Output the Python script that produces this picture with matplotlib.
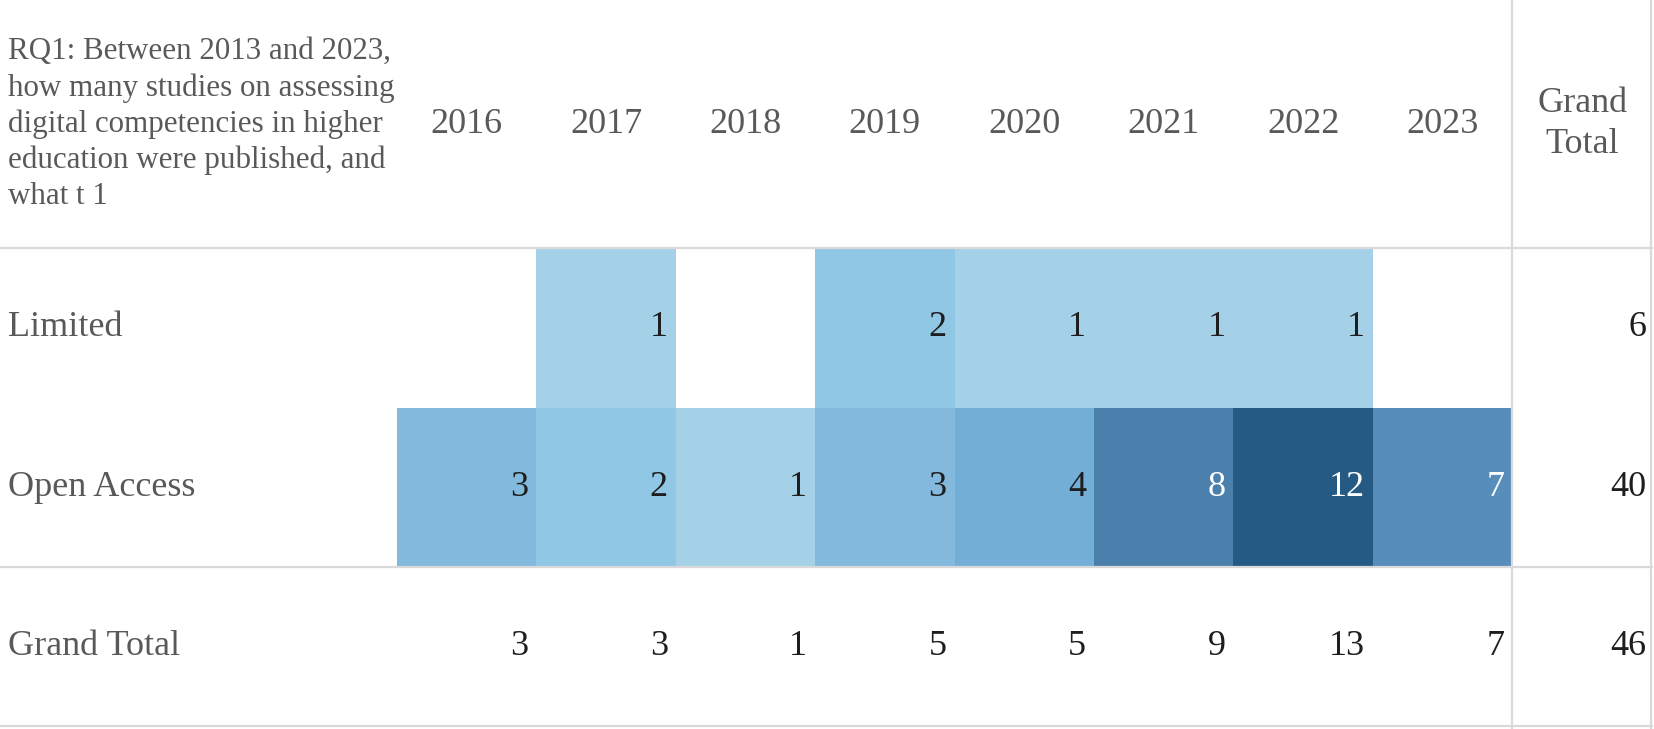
import numpy as np
import matplotlib
matplotlib.use("Agg")
import matplotlib.pyplot as plt
from matplotlib.colors import LinearSegmentedColormap, Normalize

# data
years = ["2016", "2017", "2018", "2019", "2020", "2021", "2022", "2023"]
row_labels = ["Limited", "Open Access"]
limited = [np.nan, 1, np.nan, 2, 1, 1, 1, np.nan]
open_access = [3, 2, 1, 3, 4, 8, 12, 7]
question = ("RQ1: Between 2013 and 2023,\nhow many studies on assessing\n"
            "digital competencies in higher\neducation were published, and\nwhat t 1")

# layout (pixels)
W, H = 1654, 729
LABEL_W = 397
COL_W = 139.4
TOTAL_W = 140
HEADER_H = 248
ROW_H = 159.5
GRID = "#d9d9d9"
LABEL_C = "#595959"
NUM_C = "#1e1e1e"
FONT = "Liberation Serif"
FS = 26

# colour scale
stops = [(1, "#a5d1e8"), (2, "#90c7e5"), (3, "#82b9dc"), (4, "#72aed6"),
         (7, "#568dba"), (8, "#4b80ad"), (12, "#255a84")]
cmap = LinearSegmentedColormap.from_list(
    "blues", [((v - 1) / 11, c) for v, c in stops])
norm = Normalize(1, 12)

table = np.array([limited, open_access], dtype=float)
vals = np.ma.masked_invalid(table)
col_tot = np.nansum(table, axis=0).astype(int)
row_tot = np.nansum(table, axis=1).astype(int)
grand = int(col_tot.sum())

fig = plt.figure(figsize=(W / 100, H / 100), dpi=100)
ax = fig.add_axes([0, 0, 1, 1])
ax.set_xlim(0, W)
ax.set_ylim(H, 0)
ax.axis("off")

x_edges = LABEL_W + COL_W * np.arange(len(years) + 1)
y_edges = HEADER_H + ROW_H * np.arange(len(row_labels) + 1)
ax.pcolormesh(x_edges, y_edges, vals, cmap=cmap, norm=norm)

tot_x0 = x_edges[-1]
tot_x1 = tot_x0 + TOTAL_W
last_y = y_edges[-1] + ROW_H

# grid lines
for y in [HEADER_H, y_edges[-1], last_y - 1]:
    ax.plot([0, tot_x1], [y, y], color=GRID, lw=1.6, zorder=3)
for x in [tot_x0, tot_x1 - 1]:
    ax.plot([x, x], [0, H], color=GRID, lw=1.6, zorder=3)

# header
ax.text(8, HEADER_H / 2, question, ha="left", va="center", fontsize=22.3,
        color=LABEL_C, family=FONT, linespacing=1.3)
for i, yr in enumerate(years):
    ax.text(x_edges[i] + COL_W / 2, HEADER_H / 2, yr, ha="center", va="center",
            fontsize=FS, color=LABEL_C, family=FONT)
ax.text((tot_x0 + tot_x1) / 2, HEADER_H / 2, "Grand\nTotal", ha="center", va="center",
        fontsize=FS, color=LABEL_C, family=FONT, linespacing=1.3)

# body
all_labels = row_labels + ["Grand Total"]
for r, lab in enumerate(all_labels):
    yc = HEADER_H + ROW_H * (r + 0.5)
    ax.text(8, yc, lab, ha="left", va="center", fontsize=FS, color=LABEL_C, family=FONT)

for r in range(len(row_labels)):
    yc = y_edges[r] + ROW_H / 2
    for c in range(len(years)):
        v = vals[r, c]
        if np.ma.is_masked(v):
            continue
        col = "white" if v >= 7 else NUM_C
        ax.text(x_edges[c + 1] - 8, yc, str(int(v)), ha="right", va="center",
                fontsize=FS, color=col, family=FONT)
    ax.text(tot_x1 - 6, yc, str(row_tot[r]), ha="right", va="center",
            fontsize=FS, color=NUM_C, family=FONT)

yc = y_edges[-1] + ROW_H / 2
for c in range(len(years)):
    ax.text(x_edges[c + 1] - 8, yc, str(col_tot[c]), ha="right", va="center",
            fontsize=FS, color=NUM_C, family=FONT)
ax.text(tot_x1 - 6, yc, str(grand), ha="right", va="center",
        fontsize=FS, color=NUM_C, family=FONT)

fig.savefig("out.png", dpi=100, facecolor="white")
